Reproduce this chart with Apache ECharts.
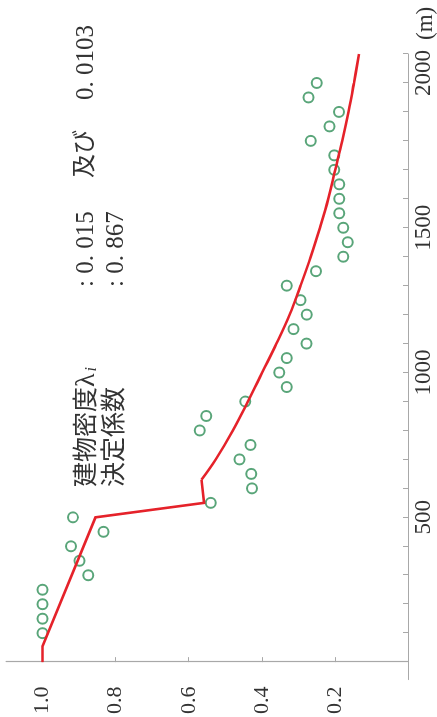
<!DOCTYPE html>
<html>
<head>
<meta charset="utf-8">
<script src="https://cdn.jsdelivr.net/npm/echarts@6/dist/echarts.min.js"></script>
<style>
  html, body { margin: 0; padding: 0; background: #fff; overflow: hidden; }
  body { width: 437px; height: 717px; position: relative; }
  /* the plot is laid out landscape and turned a quarter turn counter-clockwise */
  #chart {
    position: absolute; left: 0; top: 0;
    width: 717px; height: 437px;
    transform-origin: 0 0;
    transform: translate(0, 717px) rotate(-90deg);
  }
</style>
</head>
<body>
<div id="chart"></div>
<script>
// observed ratio against distance from the centre (m)
const obsDistance = [100, 150, 200, 250, 300, 350, 400, 450, 500, 550,
  600, 650, 700, 750, 800, 850, 900, 950, 1000, 1050,
  1100, 1150, 1200, 1250, 1300, 1350, 1400, 1450, 1500, 1550,
  1600, 1650, 1700, 1750, 1800, 1850, 1900, 1950, 2000];
const obsRatio = [1.0, 1.0, 1.0, 1.0, 0.875, 0.899, 0.922, 0.833, 0.917, 0.540,
  0.427, 0.429, 0.461, 0.431, 0.570, 0.552, 0.445, 0.332, 0.352, 0.332,
  0.278, 0.313, 0.277, 0.294, 0.332, 0.252, 0.177, 0.165, 0.177, 0.188,
  0.188, 0.188, 0.202, 0.202, 0.266, 0.215, 0.189, 0.272, 0.250];

// fitted model: piecewise part up to 630 m, then the decay curve
const fitNearDistance = [0, 55, 500, 550, 630];
const fitNearRatio = [1.0, 1.0, 0.855, 0.558, 0.565];
const fitFarDistance = [630, 700, 800, 900, 1000, 1100, 1200, 1300, 1400,
  1500, 1600, 1700, 1800, 1900, 2000, 2100];
const fitFarRatio = [0.565, 0.526, 0.479, 0.438, 0.399, 0.360, 0.324, 0.294, 0.266,
  0.241, 0.218, 0.199, 0.180, 0.163, 0.148, 0.134];

// axis ticks and labels
const distTicks = [0, 100, 200, 300, 400, 500, 600, 700, 800, 900, 1000, 1100,
  1200, 1300, 1400, 1500, 1600, 1700, 1800, 1900, 2000, 2100];
const distLabels = [500, 1000, 1500, 2000];
const ratioTicks = [0.2, 0.4, 0.6, 0.8, 1.0];

const serif = "'Liberation Serif', 'Times New Roman', 'Noto Sans CJK JP', serif";
const textColor = '#333';
const axisColor = '#a8a8a8';
const fitColor = '#e5222a';

const chart = echarts.init(document.getElementById('chart'), null, { renderer: 'canvas' });

const textStyleBase = { fontFamily: serif, fontSize: 25, fill: textColor };

const pairs = (xs, ys) => xs.map((x, i) => [x, ys[i]]);

chart.setOption({
  animation: false,
  backgroundColor: '#fff',
  grid: { left: 37, right: 54, top: 6, bottom: 27 },
  xAxis: {
    type: 'value',
    min: -60,
    max: 2100,
    name: '(m)',
    nameLocation: 'end',
    nameGap: 14,
    nameTextStyle: { fontFamily: serif, fontSize: 23, color: textColor, verticalAlign: 'top', padding: [6, 0, 0, 0] },
    splitLine: { show: false },
    axisLine: { lineStyle: { color: axisColor, width: 1.2 } },
    axisTick: { inside: true, length: 5, customValues: distTicks, lineStyle: { color: axisColor } },
    axisLabel: {
      customValues: distLabels,
      margin: 4,
      fontFamily: serif,
      fontSize: 23,
      color: textColor,
      formatter: v => v === 2000 ? '{e|2000}' : String(v),
      rich: { e: { fontFamily: serif, fontSize: 23, color: textColor, padding: [0, 0, 0, 20] } }
    }
  },
  yAxis: {
    type: 'value',
    min: 0,
    max: 1.1,
    splitLine: { show: false },
    axisLine: { onZero: true, lineStyle: { color: axisColor, width: 1.2 } },
    axisTick: { inside: true, length: 5, customValues: ratioTicks, lineStyle: { color: axisColor } },
    axisLabel: {
      customValues: ratioTicks,
      margin: 7,
      fontFamily: serif,
      fontSize: 22,
      color: textColor,
      formatter: v => v.toFixed(1)
    }
  },
  graphic: [
    { type: 'text', left: 230, top: 73, style: Object.assign({}, textStyleBase, {
        text: '建物密度{l|λ}{i|i}',
        rich: {
          l: { fontFamily: serif, fontSize: 28, fill: textColor },
          i: { fontFamily: serif, fontSize: 16, fontStyle: 'italic', fill: textColor, padding: [10, 0, 0, 2] }
        }
      }) },
    { type: 'text', left: 430, top: 74, style: Object.assign({}, textStyleBase, { text: ': 0. 015' }) },
    { type: 'text', left: 539, top: 74, style: Object.assign({}, textStyleBase, { text: '及び', fontSize: 24 }) },
    { type: 'text', left: 617, top: 74, style: Object.assign({}, textStyleBase, { text: '0. 0103' }) },
    { type: 'text', left: 230, top: 103, style: Object.assign({}, textStyleBase, { text: '決定係数' }) },
    { type: 'text', left: 430, top: 104, style: Object.assign({}, textStyleBase, { text: ': 0. 867' }) }
  ],
  series: [
    {
      type: 'scatter',
      data: pairs(obsDistance, obsRatio),
      symbol: 'circle',
      symbolSize: 10,
      itemStyle: { color: 'rgba(0,0,0,0)', borderColor: '#2f8f58', borderWidth: 2 },
      z: 2
    },
    {
      type: 'line',
      data: pairs(fitNearDistance, fitNearRatio),
      showSymbol: false,
      symbol: 'none',
      lineStyle: { color: fitColor, width: 2.6, join: 'miter' },
      z: 3
    },
    {
      type: 'line',
      data: pairs(fitFarDistance, fitFarRatio),
      showSymbol: false,
      symbol: 'none',
      smooth: 0.4,
      lineStyle: { color: fitColor, width: 2.6 },
      z: 3
    }
  ]
});
</script>
</body>
</html>
